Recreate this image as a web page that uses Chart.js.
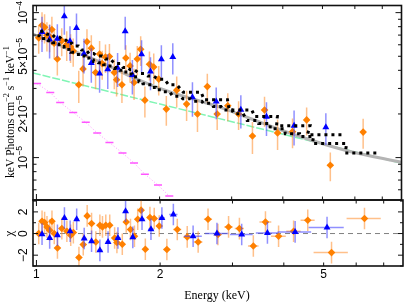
<!DOCTYPE html>
<html>
<head>
<meta charset="utf-8">
<script src="https://cdn.jsdelivr.net/npm/chart.js@4.4.1/dist/chart.umd.min.js"></script>
<style>
html,body{margin:0;padding:0;background:#fff;}
#wrap{position:relative;width:407px;height:304px;}
canvas{position:absolute;left:0;top:0;}
</style>
</head>
<body>
<div id="wrap">
<canvas id="spec" width="407" height="304"></canvas>
<canvas id="resid" width="407" height="304"></canvas>
</div>
<script>
// flux values below are in units of 1e-5 photons cm^-2 s^-1 keV^-1
var U = 1e-5;

// orange data set (diamonds)
var orangeE = [1.013,1.032,1.047,1.061,1.077,1.091,1.105,1.125,1.153,1.186,1.212,1.230,1.269,1.300,1.329,1.362,1.395,1.427,1.448,1.475,1.508,1.550,1.570,1.618,1.654,1.694,1.732,1.764,1.798,1.841,1.889,1.935,1.990,2.077,2.202,2.328,2.475,2.616,2.765,2.935,3.119,3.372,3.609,3.884,4.225,4.574,5.226,6.286];
var orangeDE = [0.007,0.008,0.007,0.007,0.007,0.007,0.008,0.010,0.015,0.015,0.010,0.012,0.015,0.015,0.015,0.016,0.015,0.010,0.012,0.015,0.018,0.012,0.012,0.020,0.020,0.018,0.015,0.015,0.018,0.020,0.022,0.022,0.030,0.040,0.050,0.050,0.060,0.060,0.060,0.070,0.080,0.100,0.120,0.160,0.170,0.180,0.500,0.600];
var orangeF = [6.70,8.18,7.93,6.99,6.83,7.65,6.16,4.79,6.41,6.04,5.79,5.43,3.18,4.09,6.29,5.69,3.86,5.18,4.45,4.94,4.98,3.86,3.44,3.18,4.86,4.29,3.30,4.79,5.58,2.49,4.40,4.22,3.48,2.16,2.92,2.34,2.00,3.09,2.00,2.28,2.00,1.41,2.13,1.48,1.51,1.82,0.886,1.50];
var orangeDF = [1.5,1.9,1.8,1.6,1.5,1.7,1.4,1.1,1.4,1.4,1.3,1.2,0.8,1.0,1.4,1.3,0.9,1.2,1.0,1.1,1.1,0.9,0.8,0.8,1.1,1.0,0.8,1.1,1.3,0.6,1.0,1.0,0.8,0.5,0.7,0.55,0.5,0.7,0.45,0.5,0.45,0.35,0.5,0.35,0.35,0.4,0.2,0.35];
var orangeModel = [6.94,6.77,6.64,6.51,6.39,6.31,6.21,6.07,5.83,5.56,5.43,5.33,5.14,5.02,4.86,4.71,4.60,4.51,4.46,4.37,4.29,4.19,4.12,4.00,3.90,3.78,3.61,3.49,3.33,3.23,3.18,3.05,2.94,2.85,2.65,2.55,2.45,2.37,2.25,2.13,2.01,1.80,1.72,1.58,1.46,1.40,1.25,1.075];
var orangeChi = [0.0,1.14,1.02,0.61,0.31,1.14,0.0,-1.33,0.46,0.21,-0.16,0.09,-2.22,-1.02,1.63,0.93,-0.78,0.77,0.61,0.77,0.77,-0.41,-0.83,-0.99,1.07,0.37,-0.25,1.32,2.16,-1.45,1.48,1.39,0.70,-1.48,0.37,-0.31,-0.78,1.32,-0.09,0.61,0.46,-1.15,1.07,-0.25,0.21,1.23,-1.76,1.39];

// blue data set (triangles)
var blueE = [1.032,1.077,1.125,1.170,1.208,1.253,1.307,1.362,1.427,1.494,1.579,1.648,1.716,1.807,1.900,2.020,2.154,2.406,2.750,3.159,3.649,4.262,5.096];
var blueDE = [0.010,0.015,0.015,0.012,0.012,0.015,0.018,0.018,0.020,0.020,0.025,0.020,0.020,0.025,0.030,0.035,0.050,0.120,0.180,0.200,0.230,0.400,0.500];
var blueF = [7.36,6.53,6.60,9.44,6.36,7.85,5.20,4.49,3.80,4.07,4.17,7.45,3.72,5.16,3.92,4.76,4.94,2.61,2.44,2.14,1.91,1.66,1.62];
var blueDF = [2.0,1.7,1.7,2.4,1.7,2.0,1.4,1.2,1.0,1.1,1.1,1.9,1.0,1.3,1.0,1.2,1.2,0.7,0.6,0.55,0.5,0.45,0.4];
var blueModel = [7.45,7.10,6.77,6.46,6.16,5.88,5.52,5.22,5.02,4.79,4.46,4.19,4.03,3.81,3.66,3.47,3.18,2.82,2.51,2.13,1.92,1.66,1.44];
var blueChi = [-0.06,-0.41,-0.16,1.44,0.21,1.32,-0.46,-0.71,-1.55,-0.78,-0.41,2.06,-0.35,1.32,0.40,1.44,1.76,-0.25,0.0,-0.09,0.06,0.15,0.56];

// model components
var totalE = [0.98,1.15,1.43,1.71,2.02,2.35,2.78,3.28,4.33,5.71,7.8];
var totalF = [7.10,5.88,4.57,3.61,2.98,2.59,2.25,1.89,1.42,1.12,0.928];
var powE = [0.98,7.8];
var powF = [3.84,0.914];
var thermE = [1.004,1.081,1.143,1.230,1.320,1.408,1.508,1.623,1.732,1.841,1.982,2.112];
var thermF = [3.24,2.81,2.40,2.05,1.75,1.48,1.27,1.075,0.918,0.769,0.646,0.543];

// axes
var xMin = 0.981, xMax = 7.8;
var fMin = 5.1e-6, fMax = 1.12e-4;
var chiMin = -3.0, chiMax = 3.1;
var xTicks = [1,2,3,4,5,6,7];
var xLabels = [1,2,5];
var fTicks = [6e-6,7e-6,8e-6,9e-6,1e-5,2e-5,3e-5,4e-5,5e-5,6e-5,7e-5,8e-5,9e-5,1e-4];
var fLabels = [[1e-4,'10','−4'],[5e-5,'5×10','−5'],[2e-5,'2×10','−5'],[1e-5,'10','−5']];
var chiTicks = [-3,-2,-1,0,1,2,3];
var chiLabels = [2,0,-2];

var SANS = '"Liberation Sans", Arial, sans-serif';
var SERIF = '"Liberation Serif", "Times New Roman", serif';

function pts(E, F, s) { return E.map(function(e, i){ return {x: e, y: F[i] * s}; }); }
function steps(E, dE, M) {
	var out = [];
	E.forEach(function(e, i){
		out.push({x: e - dE[i], y: M[i] * U});
		out.push({x: e + dE[i], y: M[i] * U});
	});
	return out;
}
function scaled(a, s) { return a.map(function(v){ return v * s; }); }

// error bars, drawn just before their own dataset
var errorBars = {
	id: 'errorBars',
	beforeDatasetDraw: function(chart, args){
		var ds = chart.data.datasets[args.index];
		if(!ds.errY) return;
		var ctx = chart.ctx, a = chart.chartArea;
		var xs = chart.scales.x, ys = chart.scales.y;
		ctx.save();
		ctx.beginPath();
		ctx.rect(a.left, a.top, a.right - a.left, a.bottom - a.top);
		ctx.clip();
		ctx.strokeStyle = ds.errColor;
		ctx.lineWidth = 1.5;
		ds.data.forEach(function(p, i){
			var px = xs.getPixelForValue(p.x), py = ys.getPixelForValue(p.y);
			ctx.beginPath();
			if(ds.errX){
				ctx.moveTo(xs.getPixelForValue(p.x - ds.errX[i]), py);
				ctx.lineTo(xs.getPixelForValue(p.x + ds.errX[i]), py);
			}
			ctx.moveTo(px, ys.getPixelForValue(p.y - ds.errY[i]));
			ctx.lineTo(px, ys.getPixelForValue(p.y + ds.errY[i]));
			ctx.stroke();
		});
		ctx.restore();
	}
};

function seg(ctx, x0, y0, x1, y1){
	ctx.beginPath(); ctx.moveTo(x0, y0); ctx.lineTo(x1, y1); ctx.stroke();
}

// text with superscripts, centred on (0,0) of current transform
function richText(ctx, parts, size, family){
	var sub = size * 0.72, w = 0;
	parts.forEach(function(p){
		ctx.font = (p[1] ? sub : size) + 'px ' + family;
		w += ctx.measureText(p[0]).width;
	});
	var x = -w / 2;
	ctx.textBaseline = 'middle';
	ctx.textAlign = 'left';
	parts.forEach(function(p){
		ctx.font = (p[1] ? sub : size) + 'px ' + family;
		ctx.fillText(p[0], x, p[1] ? -size * 0.38 : 0);
		x += ctx.measureText(p[0]).width;
	});
}
function rotated(ctx, x, y, fn){
	ctx.save(); ctx.translate(x, y); ctx.rotate(-Math.PI / 2); fn(); ctx.restore();
}

function frameAndXTicks(chart){
	var ctx = chart.ctx, a = chart.chartArea, xs = chart.scales.x;
	ctx.strokeStyle = '#111';
	ctx.lineWidth = 1.6;
	ctx.strokeRect(a.left, a.top, a.right - a.left, a.bottom - a.top);
	ctx.lineWidth = 1;
	xTicks.forEach(function(v){
		var px = xs.getPixelForValue(v), len = v === 1 ? 6 : 3.5;
		seg(ctx, px, a.top, px, a.top + len);
		seg(ctx, px, a.bottom, px, a.bottom - len);
	});
}

var specAxes = {
	id: 'specAxes',
	afterDraw: function(chart){
		var ctx = chart.ctx, a = chart.chartArea, ys = chart.scales.y;
		ctx.save();
		frameAndXTicks(chart);
		fTicks.forEach(function(v){
			var py = ys.getPixelForValue(v);
			var major = Math.abs(Math.log10(v) - Math.round(Math.log10(v))) < 1e-6;
			var len = major ? 6 : 3.5;
			seg(ctx, a.left, py, a.left + len, py);
			seg(ctx, a.right, py, a.right - len, py);
		});
		ctx.fillStyle = '#000';
		fLabels.forEach(function(l){
			rotated(ctx, 24, ys.getPixelForValue(l[0]), function(){
				richText(ctx, [[l[1], false], [l[2], true]], 12, SANS);
			});
		});
		rotated(ctx, 11, 112, function(){
			richText(ctx, [['keV Photons cm', false], ['−2', true], [' s', false], ['−1', true], [' keV', false], ['−1', true]], 11.5, SERIF);
		});
		ctx.restore();
	}
};

var residAxes = {
	id: 'residAxes',
	beforeDatasetsDraw: function(chart){
		var ctx = chart.ctx, a = chart.chartArea, ys = chart.scales.y;
		ctx.save();
		ctx.strokeStyle = '#808080';
		ctx.lineWidth = 1;
		ctx.setLineDash([5, 4]);
		var p0 = ys.getPixelForValue(0);
		seg(ctx, a.left, p0, a.right, p0);
		ctx.restore();
	},
	afterDraw: function(chart){
		var ctx = chart.ctx, a = chart.chartArea, xs = chart.scales.x, ys = chart.scales.y;
		ctx.save();
		frameAndXTicks(chart);
		chiTicks.forEach(function(v){
			var py = ys.getPixelForValue(v), len = v % 2 === 0 ? 5 : 3;
			seg(ctx, a.left, py, a.left + len, py);
			seg(ctx, a.right, py, a.right - len, py);
		});
		ctx.fillStyle = '#000';
		ctx.font = '12px ' + SANS;
		ctx.textAlign = 'center';
		ctx.textBaseline = 'middle';
		xLabels.forEach(function(v){
			ctx.fillText(String(v), xs.getPixelForValue(v), 275);
		});
		chiLabels.forEach(function(v){
			rotated(ctx, 24, ys.getPixelForValue(v), function(){
				richText(ctx, [[v < 0 ? '−' + (-v) : String(v), false]], 12, SANS);
			});
		});
		rotated(ctx, 10, ys.getPixelForValue(0), function(){
			richText(ctx, [['χ', false]], 13, SERIF);
		});
		ctx.font = '12px ' + SERIF;
		ctx.textAlign = 'center';
		ctx.textBaseline = 'middle';
		ctx.fillText('Energy (keV)', 217, 296);
		ctx.restore();
	}
};

var xScale = {type: 'logarithmic', min: xMin, max: xMax, display: false};
var base = {
	responsive: false,
	animation: false,
	devicePixelRatio: 1,
	events: [],
	plugins: {legend: {display: false}, tooltip: {enabled: false}}
};

var orangeStyle = {pointStyle: 'rectRot', pointRadius: 3.8, backgroundColor: '#ff8000', borderColor: '#ff8000', borderWidth: 0, errColor: 'rgba(255,150,60,0.6)'};
var blueStyle = {pointStyle: 'triangle', pointRadius: 4, backgroundColor: '#0000ff', borderColor: '#0000ff', borderWidth: 0, errColor: 'rgba(70,70,255,0.6)'};

new Chart(document.getElementById('spec'), {
	type: 'scatter',
	data: {datasets: [
		{data: steps(blueE, blueDE, blueModel), showLine: true, pointRadius: 0, borderColor: '#000', borderWidth: 3, borderDash: [3, 4]},
		{data: steps(orangeE, orangeDE, orangeModel), showLine: true, pointRadius: 0, borderColor: '#000', borderWidth: 3, borderDash: [3, 4]},
		Object.assign({data: pts(blueE, blueF, U), errY: scaled(blueDF, U)}, blueStyle),
		Object.assign({data: pts(orangeE, orangeF, U), errY: scaled(orangeDF, U)}, orangeStyle),
		{data: pts(totalE, totalF, U), showLine: true, pointRadius: 0, borderColor: '#b4b4b4', borderWidth: 3, cubicInterpolationMode: 'monotone'},
		{data: pts(powE, powF, U), showLine: true, pointRadius: 0, borderColor: '#80f5b4', borderWidth: 1.5, borderDash: [8, 2]},
		{data: pts(thermE, thermF, U), showLine: true, borderColor: 'rgba(255,110,255,0.7)', borderWidth: 1, borderDash: [1, 2],
		 pointStyle: 'line', pointRadius: 4, pointBorderColor: '#ff55ff', pointBorderWidth: 1.5}
	]},
	options: Object.assign({}, base, {
		layout: {padding: {left: 33, right: 1, top: 4, bottom: 104}},
		scales: {x: xScale, y: {type: 'logarithmic', min: fMin, max: fMax, display: false}}
	}),
	plugins: [errorBars, specAxes]
});

new Chart(document.getElementById('resid'), {
	type: 'scatter',
	data: {datasets: [
		Object.assign({data: pts(blueE, blueChi, 1), errX: blueDE, errY: blueChi.map(function(){ return 1; })}, blueStyle),
		Object.assign({data: pts(orangeE, orangeChi, 1), errX: orangeDE, errY: orangeChi.map(function(){ return 1; })}, orangeStyle)
	]},
	options: Object.assign({}, base, {
		layout: {padding: {left: 33, right: 1, top: 200, bottom: 38}},
		scales: {x: xScale, y: {type: 'linear', min: chiMin, max: chiMax, display: false}}
	}),
	plugins: [errorBars, residAxes]
});
</script>
</body>
</html>
